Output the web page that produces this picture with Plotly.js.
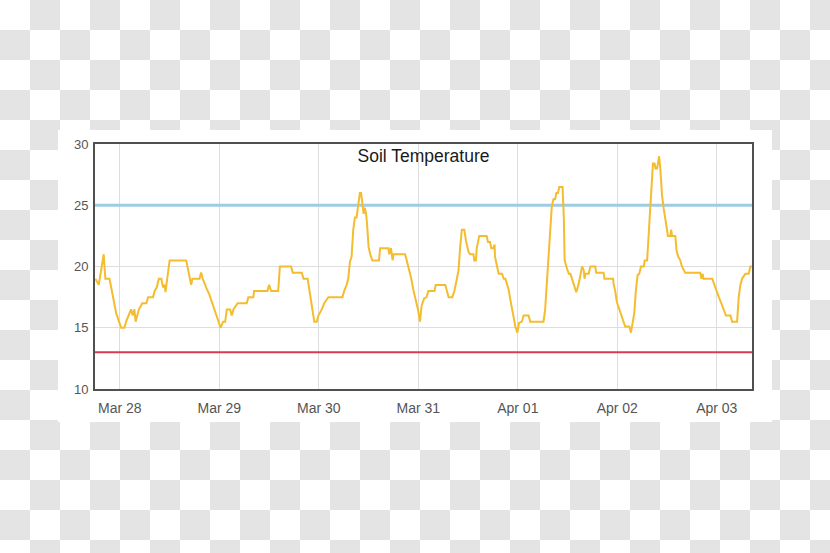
<!DOCTYPE html>
<html>
<head>
<meta charset="utf-8">
<script src="https://cdn.plot.ly/plotly-3.0.1.min.js"></script>
<style>
  html, body { margin: 0; padding: 0; }
  body {
    width: 830px; height: 553px; overflow: hidden; position: relative;
    background: repeating-conic-gradient(#e4e4e4 0 25%, #ffffff 0 50%) 0 0 / 60px 60px;
  }
  #panel { position: absolute; left: 58px; top: 130px; width: 714px; height: 292px; background: #fff; }
  #chart { position: absolute; left: 0; top: 0; width: 830px; height: 553px; }
</style>
</head>
<body>
<div id="panel"></div>
<div id="chart"></div>
<script>
// Hours since Mar 28 00:00 and soil temperature readings
const hours = [
  -5.9, -5.1, -3.9, -3.5, -2.5, -2.1, -1.5, -0.9, -0.1, 0.3, 1.1, 1.5, 2.1, 2.7, 3.1, 3.5, 3.8, 4.2, 4.6, 5.4,
  6.4, 6.8, 8.0, 8.4, 8.9, 9.4, 10.0, 10.4, 10.8, 11.0, 12.0, 16.0, 16.4, 17.0, 17.2, 17.5, 19.2, 19.6, 20.0, 20.8,
  21.6, 22.4, 23.1, 23.7, 24.3, 24.9, 25.4, 25.8, 26.6, 27.0, 27.4, 28.4, 30.6, 31.0, 32.2, 32.4, 35.6, 36.0, 36.5, 38.2,
  38.6, 41.3, 41.7, 43.9, 44.3, 45.3, 45.9, 46.4, 46.9, 47.5, 47.9, 48.7, 49.3, 50.3, 53.7, 54.1, 54.7, 55.1, 55.5, 55.9,
  56.3, 56.7, 57.1, 57.5, 57.9, 58.2, 58.5, 58.8, 59.1, 59.4, 59.6, 60.0, 60.4, 60.9, 62.5, 62.8, 64.8, 65.0, 65.4, 65.8,
  66.0, 68.8, 69.2, 69.8, 70.3, 70.8, 71.4, 71.9, 72.4, 72.8, 73.4, 74.0, 74.4, 75.9, 76.2, 78.5, 78.9, 79.3, 80.2, 80.7,
  81.3, 81.7, 82.1, 82.5, 83.1, 83.5, 84.1, 84.5, 85.3, 85.5, 85.9, 86.1, 86.7, 88.5, 88.8, 89.3, 89.6, 90.1, 90.4, 90.5,
  91.0, 91.4, 92.2, 92.6, 93.0, 93.4, 93.8, 94.2, 94.6, 95.0, 95.4, 95.9, 96.3, 97.0, 97.4, 98.6, 99.0, 102.2, 102.6, 103.0,
  103.4, 103.8, 104.2, 104.6, 105.0, 105.3, 105.7, 106.0, 106.8, 107.1, 107.3, 107.9, 108.3, 108.7, 109.2, 109.7, 110.1, 110.7, 111.1, 111.5,
  111.9, 112.1, 112.3, 113.1, 113.5, 114.7, 114.9, 116.7, 116.9, 119.0, 119.1, 119.5, 119.9, 120.5, 121.0, 121.5, 121.9, 122.9, 123.3, 123.7,
  124.1, 124.5, 124.9, 125.3, 125.7, 126.4, 126.6, 127.2, 127.6, 128.0, 128.4, 128.6, 129.0, 129.2, 129.6, 129.8, 130.1, 130.4, 130.8, 131.2,
  131.6, 132.0, 132.2, 132.8, 133.0, 133.2, 134.0, 134.3, 134.7, 135.2, 135.6, 136.0, 136.4, 140.0, 140.3, 140.6, 140.8, 142.9, 143.3, 143.8,
  144.5, 145.1, 145.7, 146.2, 147.3, 147.7, 148.9, 149.3, 149.7, 150.1, 150.9, 151.7, 152.1, 152.5
];
const temps = [
  19.0, 18.5, 21.0, 19.0, 19.0, 18.3, 17.3, 16.2, 15.4, 15.0, 15.0, 15.5, 16.0, 16.5, 16.0, 16.5, 15.5, 16.0, 16.5, 17.0,
  17.0, 17.5, 17.5, 18.0, 18.3, 19.0, 19.0, 18.3, 18.5, 17.9, 20.5, 20.5, 19.9, 19.0, 18.5, 19.0, 19.0, 19.5, 19.0, 18.3,
  17.7, 16.9, 16.2, 15.6, 15.0, 15.5, 15.5, 16.5, 16.5, 16.0, 16.5, 17.0, 17.0, 17.5, 17.5, 18.0, 18.0, 18.5, 18.0, 18.0,
  20.0, 20.0, 19.5, 19.5, 19.0, 19.0, 17.8, 16.5, 15.5, 15.5, 16.0, 16.5, 17.0, 17.5, 17.5, 18.0, 18.5, 19.0, 20.4, 20.8,
  23.0, 24.0, 24.0, 25.0, 26.0, 26.0, 24.8, 24.3, 24.8, 24.3, 23.6, 21.6, 21.0, 20.5, 20.5, 21.5, 21.5, 21.0, 21.5, 20.5,
  21.0, 21.0, 20.5, 19.7, 19.0, 18.1, 17.3, 16.5, 15.5, 16.8, 17.4, 17.5, 18.0, 18.0, 18.5, 18.5, 18.0, 17.5, 17.5, 18.0,
  19.0, 19.7, 21.6, 23.0, 23.0, 22.1, 21.2, 21.0, 21.0, 20.5, 20.5, 21.5, 22.5, 22.5, 22.0, 22.0, 21.5, 21.5, 21.8, 20.8,
  20.0, 19.4, 19.4, 19.0, 19.0, 18.6, 18.1, 17.3, 16.5, 15.6, 15.1, 14.6, 15.4, 15.5, 16.0, 16.0, 15.5, 15.5, 16.5, 18.6,
  20.8, 23.0, 24.9, 25.5, 25.5, 26.0, 26.0, 26.5, 26.5, 24.0, 20.5, 19.8, 19.4, 19.4, 18.8, 18.3, 17.9, 18.6, 19.4, 20.0,
  19.7, 19.0, 19.4, 19.4, 20.0, 20.0, 19.5, 19.5, 19.0, 19.0, 18.6, 18.0, 17.1, 16.5, 15.9, 15.5, 15.1, 15.1, 14.6, 15.4,
  16.2, 18.1, 19.3, 19.4, 20.0, 20.0, 20.5, 20.5, 22.7, 25.4, 27.6, 28.4, 28.4, 28.0, 28.0, 28.6, 29.0, 27.9, 25.8, 24.7,
  24.0, 23.0, 22.5, 22.5, 23.0, 22.5, 22.5, 21.3, 20.8, 20.5, 20.0, 19.8, 19.5, 19.5, 19.0, 19.4, 19.0, 19.0, 18.6, 18.1,
  17.5, 17.0, 16.5, 16.0, 16.0, 15.5, 15.5, 17.5, 18.5, 19.0, 19.4, 19.4, 20.0, 20.0
];
const thresholdHigh = 25;
const thresholdLow = 13;
const xRangeHours = [-6.0, 152.5];
const yRange = [10, 30];
const yTicks = [10, 15, 20, 25, 30];
const chartTitle = "Soil Temperature";

const baseMs = Date.UTC(2018, 2, 28, 0, 0, 0);
function toDate(h) {
  return new Date(baseMs + h * 3600000).toISOString().replace('T', ' ').slice(0, 19);
}
const xs = hours.map(toDate);
const xr = xRangeHours.map(toDate);

const traces = [
  { x: xr, y: [thresholdHigh, thresholdHigh], mode: 'lines', line: { color: '#9fcbe3', width: 3 }, hoverinfo: 'skip', showlegend: false },
  { x: xr, y: [thresholdLow, thresholdLow], mode: 'lines', line: { color: '#d63a4c', width: 2 }, hoverinfo: 'skip', showlegend: false },
  { x: xs, y: temps, mode: 'lines', line: { color: '#f4bd2f', width: 2 }, showlegend: false }
];

const layout = {
  width: 830, height: 553,
  margin: { l: 95, r: 78, t: 144, b: 164, pad: 0 },
  paper_bgcolor: 'rgba(0,0,0,0)',
  plot_bgcolor: 'rgba(0,0,0,0)',
  font: { family: 'Liberation Sans, Arial, sans-serif', color: '#555' },
  title: {
    text: chartTitle,
    font: { size: 17.5, color: '#1a1a1a', family: 'Liberation Sans, Arial, sans-serif' },
    xref: 'paper', x: 0.5, xanchor: 'center',
    yref: 'container', y: 1 - 156 / 553, yanchor: 'middle'
  },
  xaxis: {
    type: 'date', range: xr,
    tick0: '2018-03-28', dtick: 86400000, tickformat: '%b %d',
    showgrid: true, gridcolor: '#dddddd', gridwidth: 1,
    showline: true, mirror: true, linecolor: '#505050', linewidth: 2,
    ticks: '', ticklabelstandoff: 5,
    tickfont: { size: 14, color: '#555' }, zeroline: false
  },
  yaxis: {
    range: yRange, tickvals: yTicks,
    showgrid: true, gridcolor: '#dddddd', gridwidth: 1,
    showline: true, mirror: true, linecolor: '#505050', linewidth: 2,
    ticks: '', ticklabelstandoff: 2,
    tickfont: { size: 13, color: '#555' }, zeroline: false
  }
};

Plotly.newPlot('chart', traces, layout, { displayModeBar: false, staticPlot: true });
</script>
</body>
</html>
